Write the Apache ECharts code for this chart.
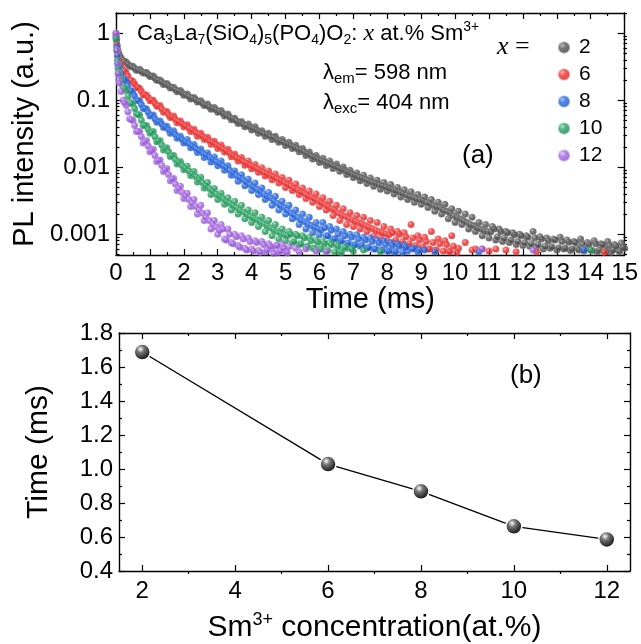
<!DOCTYPE html>
<html>
<head>
<meta charset="utf-8">
<script src="https://cdn.jsdelivr.net/npm/echarts@6/dist/echarts.min.js"></script>
<style>html,body{margin:0;padding:0;background:#fff}#c{width:641px;height:644px}</style>
</head>
<body>
<div id="c"></div>
<script>
// ---------- data (panel a: PL decay, panel b: lifetime) ----------
const timeMs = [0,0.02,0.04,0.06,0.08,
0.1,0.2,0.3,0.4,0.5,0.6,0.7,0.8,0.9,1.0,
1.1,1.2,1.3,1.4,1.5,1.6,1.7,1.8,1.9,2.0,
2.1,2.2,2.3,2.4,2.5,2.6,2.7,2.8,2.9,3.0,
3.1,3.2,3.3,3.4,3.5,3.6,3.7,3.8,3.9,4.0,
4.1,4.2,4.3,4.4,4.5,4.6,4.7,4.8,4.9,5.0,
5.1,5.2,5.3,5.4,5.5,5.6,5.7,5.8,5.9,6.0,
6.1,6.2,6.3,6.4,6.5,6.6,6.7,6.8,6.9,7.0,
7.1,7.2,7.3,7.4,7.5,7.6,7.7,7.8,7.9,8.0,
8.1,8.2,8.3,8.4,8.5,8.6,8.7,8.8,8.9,9.0,
9.1,9.2,9.3,9.4,9.5,9.6,9.7,9.8,9.9,10.0,
10.1,10.2,10.3,10.4,10.5,10.6,10.7,10.8,10.9,11.0,
11.1,11.2,11.3,11.4,11.5,11.6,11.7,11.8,11.9,12.0,
12.1,12.2,12.3,12.4,12.5,12.6,12.7,12.8,12.9,13.0,
13.1,13.2,13.3,13.4,13.5,13.6,13.7,13.8,13.9,14.0,
14.1,14.2,14.3,14.4,14.5,14.6,14.7,14.8,14.9,15.0];

// in-between sampling instants
const timeMidMs = [
0.15,0.25,0.35,0.45,0.55,0.65,0.75,0.85,0.95,1.05,
1.15,1.25,1.35,1.45,1.55,1.65,1.75,1.85,1.95,2.05,
2.15,2.25,2.35,2.45,2.55,2.65,2.75,2.85,2.95,3.05,
3.15,3.25,3.35,3.45,3.55,3.65,3.75,3.85,3.95,4.05,
4.15,4.25,4.35,4.45,4.55,4.65,4.75,4.85,4.95,5.05,
5.15,5.25,5.35,5.45,5.55,5.65,5.75,5.85,5.95,6.05,
6.15,6.25,6.35,6.45,6.55,6.65,6.75,6.85,6.95,7.05,
7.15,7.25,7.35,7.45,7.55,7.65,7.75,7.85,7.95,8.05,
8.15,8.25,8.35,8.45,8.55,8.65,8.75,8.85,8.95,9.05,
9.15,9.25,9.35,9.45,9.55,9.65,9.75,9.85,9.95,10.05,
10.15,10.25,10.35,10.45,10.55,10.65,10.75,10.85,10.95,11.05,
11.15,11.25,11.35,11.45,11.55,11.65,11.75,11.85,11.95,12.05,
12.15,12.25,12.35,12.45,12.55,12.65,12.75,12.85,12.95,13.05,
13.15,13.25,13.35,13.45,13.55,13.65,13.75,13.85,13.95,14.05,
14.15,14.25,14.35,14.45,14.55,14.65,14.75,14.85,14.95];

const pl_x2 = [1.0,0.8,0.64,0.55,0.5,
0.47,0.38,0.37,0.32,0.32,0.28,0.29,0.255,0.26,0.225,
0.23,0.198,0.2,0.172,0.178,0.152,0.156,0.134,0.139,0.119,
0.124,0.104,0.11,0.094,0.098,0.083,0.088,0.073,0.078,0.066,
0.07,0.058,0.062,0.051,0.054,0.045,0.048,0.040,0.044,0.036,
0.04,0.032,0.035,0.029,0.032,0.026,0.029,0.0235,0.026,0.021,
0.0235,0.019,0.0212,0.017,0.019,0.015,0.0168,0.0133,0.015,0.0118,
0.0136,0.0106,0.0124,0.0096,0.0112,0.0087,0.0101,0.0078,0.009,0.007,
0.0082,0.0063,0.0076,0.0057,0.0069,0.0052,0.0064,0.0047,0.0059,0.0044,
0.0055,0.0040,0.0050,0.0036,0.0046,0.0033,0.0043,0.003,0.0039,0.0028,
0.0036,0.0025,0.0033,0.0022,0.003,0.002,0.0028,0.0017,0.0024,0.0015,
0.0022,0.0014,0.002,0.0012,0.0018,0.0011,0.0015,0.00095,0.0014,0.00088,
0.0013,0.00082,0.0012,0.00078,0.0011,0.00075,0.00105,0.0007,0.001,0.00068,
0.00095,0.00066,0.0011,0.00064,0.00092,0.0006,0.00088,0.00062,0.00085,0.00058,
0.0009,0.0006,0.00082,0.00057,0.00078,0.00062,0.00085,0.00056,0.00075,0.00058,
0.0008,0.00055,0.00072,0.0006,0.00078,0.00054,0.0007,0.00058,0.00074,0.00062];
const pl_x2_mid = [
0.43,0.38,0.345,0.32,0.30,0.283,0.27,0.257,0.242,0.228,
0.212,0.199,0.187,0.175,0.165,0.155,0.145,0.137,0.129,0.121,
0.114,0.108,0.102,0.096,0.090,0.085,0.080,0.076,0.072,0.068,
0.064,0.060,0.056,0.053,0.0495,0.047,0.044,0.042,0.040,0.038,
0.036,0.034,0.032,0.031,0.029,0.028,0.026,0.0248,0.0235,0.0224,
0.0212,0.020,0.019,0.018,0.017,0.016,0.015,0.0142,0.0134,0.0127,
0.0121,0.0115,0.011,0.0104,0.0099,0.0094,0.009,0.0085,0.008,0.0076,
0.0072,0.0069,0.0066,0.0063,0.006,0.0058,0.0055,0.0053,0.0051,0.0049,
0.0047,0.0045,0.0043,0.0041,0.0039,0.0037,0.0036,0.0034,0.0033,0.0032,
0.0030,0.0029,0.0027,0.0026,0.0025,0.0023,0.0022,0.0021,0.0019,0.0018,
0.0017,0.0016,0.0015,0.0014,0.00135,0.00125,0.0012,0.00115,0.0011,0.00108,
0.0012,0.00092,0.0011,0.00088,0.00105,0.00082,0.00098,0.00078,0.00095,0.00075,
0.0009,0.00072,0.00088,0.0007,0.00085,0.00066,0.0008,0.00065,0.00082,0.00063,
0.00078,0.00062,0.00076,0.0006,0.00075,0.00058,0.00072,0.0006,0.0007,0.00057,
0.00072,0.00058,0.0007,0.00056,0.00068,0.00058,0.00066,0.00055,0.00064];

const pl_x6 = [0.92,0.7,0.56,0.46,0.41,
0.39,0.29,0.26,0.2,0.19,0.155,0.15,0.12,0.12,0.098,
0.1,0.081,0.083,0.066,0.068,0.055,0.058,0.046,0.049,0.04,
0.043,0.034,0.037,0.029,0.032,0.026,0.028,0.022,0.0245,0.019,
0.0215,0.0168,0.0185,0.0143,0.0158,0.0124,0.014,0.0107,0.0124,0.0095,
0.011,0.0084,0.0098,0.0074,0.0088,0.0065,0.0079,0.0058,0.007,0.005,
0.0064,0.0045,0.0056,0.0039,0.0049,0.0034,0.0044,0.003,0.004,0.0026,
0.0035,0.0023,0.0031,0.0019,0.0027,0.0016,0.0024,0.0014,0.0021,0.0013,
0.0019,0.0012,0.0018,0.0011,0.0016,0.00095,0.0015,0.00088,0.0013,0.0008,
0.0012,0.00075,0.0011,0.0007,0.00105,0.00068,0.0014,0.00065,0.00095,0.00062,
0.0009,0.0006,0.0011,0.00058,0.00085,null,0.0008,0.00056,0.00095,null,
0.00062,null,0.00075,null,0.00058,0.0006,null,0.0006,null,0.00056];
const pl_x6_mid = [
0.34,0.27,0.23,0.197,0.175,0.155,0.136,0.121,0.11,0.1,
0.09,0.082,0.074,0.067,0.061,0.056,0.052,0.048,0.0445,0.0415,
0.0385,0.036,0.033,0.031,0.029,0.027,0.025,0.0235,0.0218,0.0203,
0.019,0.0176,0.0163,0.0151,0.014,0.0131,0.0123,0.0115,0.0108,0.0102,
0.0096,0.009,0.0085,0.008,0.0076,0.0072,0.0068,0.0064,0.006,0.0056,
0.0053,0.0049,0.0046,0.0043,0.0041,0.0038,0.0036,0.0034,0.0032,0.003,
0.0028,0.0026,0.0024,0.0023,0.0021,0.00195,0.00185,0.00175,0.00165,0.00156,
0.0015,0.00143,0.00135,0.00128,0.00122,0.00116,0.0011,0.00106,0.00102,0.00098,
0.00105,0.00082,0.001,0.00078,0.00092,0.00072,0.00088,0.00068,0.00082,0.00065,
0.00078,0.0006,0.00075,0.00058,0.00072,0.00056,0.0007,0.00055,0.00066,0.00054];
const pl_x6_tail = [[11.2,0.0006],[11.5,0.00058],[11.8,0.00055],[12.4,0.00055],[14.4,0.00054]];

const pl_x8 = [0.88,0.62,0.46,0.37,0.33,
0.31,0.21,0.19,0.14,0.13,0.1,0.097,0.075,0.074,0.058,
0.06,0.047,0.049,0.039,0.041,0.032,0.035,0.027,0.029,0.023,
0.026,0.0195,0.0218,0.0166,0.0187,0.014,0.0163,0.012,0.0142,0.0105,
0.0124,0.009,0.0105,0.0076,0.0088,0.0062,0.0077,0.0053,0.0066,0.0045,
0.0058,0.0039,0.0049,0.0033,0.0042,0.0027,0.0037,0.0023,0.0031,0.002,
0.0027,0.0017,0.0023,0.0014,0.002,0.0012,0.0018,0.00105,0.0015,0.00098,
0.0015,0.00095,0.0013,0.00085,0.0012,0.00078,0.0011,0.00072,0.001,0.00068,
0.00098,0.00066,0.0009,0.00062,0.00088,0.0006,0.00082,0.00058,0.0008,0.00056,
0.00075,0.00055,0.00072,null,0.00068,0.00056,null,0.00062,0.00055];
const pl_x8_mid = [
0.25,0.2,0.165,0.137,0.116,0.099,0.086,0.075,0.066,0.059,
0.053,0.048,0.044,0.04,0.0365,0.0335,0.031,0.028,0.026,0.024,
0.0225,0.0208,0.0192,0.0177,0.0164,0.0153,0.0142,0.0132,0.0122,0.0114,
0.0106,0.0098,0.009,0.0082,0.0075,0.007,0.0065,0.006,0.0055,0.0051,
0.0047,0.0044,0.004,0.0037,0.0035,0.0032,0.0029,0.0027,0.0025,0.0023,
0.0021,0.00195,0.0018,0.00165,0.00155,0.00145,0.00135,0.00128,0.00122,0.00117,
0.00125,0.00095,0.00115,0.00085,0.001,0.0008,0.00095,0.00074,0.0009,0.0007,
0.00085,0.00068,0.00082,0.00064,0.00078,0.0006,0.00074,0.00058,0.0007,0.00056,
0.00068,0.00055,0.00066,0.00054,0.00064,null,0.0006,null,0.00058];
const pl_x8_tail = [[9.1,0.00058],[9.4,0.00055],[10.7,0.00055],[13.8,0.00058]];

const pl_x10 = [0.82,0.55,0.39,0.3,0.26,
0.24,0.16,0.14,0.094,0.088,0.063,0.06,0.042,0.042,0.032,
0.034,0.024,0.025,0.018,0.0195,0.0145,0.015,0.0112,0.0122,0.0092,
0.0103,0.0075,0.0086,0.006,0.0071,0.0049,0.0059,0.0039,0.0048,0.0033,
0.0041,0.0028,0.0035,0.0023,0.0031,0.002,0.0027,0.0017,0.0023,0.0015,
0.0021,0.0013,0.0018,0.0011,0.0016,0.00095,0.0014,0.00085,0.0012,0.0008,
0.0011,0.00075,0.001,0.0007,0.00095,0.00065,0.0009,0.00062,0.00082,0.0006,
0.00078,0.00057,0.00075,null,0.0007,0.00055,null,0.00062,null,0.00056];
const pl_x10_mid = [
0.2,0.15,0.115,0.09,0.075,0.061,0.05,0.042,0.037,0.033,
0.0285,0.0245,0.0215,0.019,0.017,0.0148,0.0131,0.0118,0.0106,0.0096,
0.0088,0.008,0.0073,0.0065,0.0059,0.0053,0.0048,0.0044,0.004,0.0037,
0.0034,0.0031,0.0029,0.0027,0.0025,0.0023,0.00215,0.002,0.00185,0.00175,
0.00165,0.00155,0.00145,0.00135,0.00125,0.00117,0.0011,0.00104,0.00099,0.00095,
0.001,0.00078,0.00095,0.00072,0.00088,0.00066,0.0008,0.00062,0.00076,0.0006,
0.00072,0.00057,0.0007,0.00055,0.00066,0.00054,0.00064,null,0.0006];
const pl_x10_tail = [[7.3,0.00058],[7.8,0.00055],[14.0,0.00058]];

const pl_x12 = [1.0,0.55,0.35,0.25,0.2,
0.18,0.1,0.084,0.053,0.05,0.034,0.034,0.023,0.025,0.017,
0.0185,0.0122,0.0128,0.0086,0.0096,0.0063,0.0068,0.0045,0.0052,0.0034,
0.0041,0.0026,0.0033,0.002,0.0027,0.0016,0.0021,0.0012,0.0016,0.001,
0.0014,0.00085,0.0012,0.00075,0.001,0.00068,0.00095,0.00062,0.00088,0.0006,
0.0008,0.00057,0.00078,0.00055,0.00072,0.0006,0.00068,0.00054,0.0007,0.00056,
0.00065,null,0.00062,0.00055,null,0.0006,null,null,0.00056];
const pl_x12_mid = [
0.135,0.092,0.067,0.051,0.042,0.034,0.0285,0.024,0.0207,0.0177,
0.015,0.0126,0.0106,0.0091,0.0078,0.0066,0.0056,0.0048,0.0042,0.0037,
0.0033,0.0029,0.0026,0.0023,0.00205,0.0018,0.0016,0.00143,0.00128,0.00115,
0.0012,0.00082,0.001,0.00072,0.00092,0.00064,0.00085,0.00058,0.00078,0.00056,
0.00075,0.00054,0.0007,0.00058,0.00066,0.00052,0.00068,0.00056,0.00062,0.00053];
const pl_x12_tail = [[6.2,0.00055],[10.8,0.0006],[12.3,0.00058]];

const legendNames = ['2','6','8','10','12'];
const decayLabelValues = [0.001,0.01,0.1,1];

const concentration = [2,6,8,10,12];
const lifetimeMs = [1.688,1.029,0.869,0.663,0.586];
const concLabelValues = [2,4,6,8,10,12];
const concMinorValues = [3,5,7,9,11];

// ---------- styling ----------
const FONT = '"Liberation Sans", Arial, Helvetica, sans-serif';
const SERIF = '"Liberation Serif", "Times New Roman", serif';
const AXIS_W = 1.4;

function sphere(light, base, dark) {
  return {type:'radial', x:0.38, y:0.35, r:0.7,
    colorStops:[{offset:0,color:light},{offset:0.35,color:base},{offset:1,color:dark}]};
}
function zip(vals, mid, tail) {
  const out = [];
  vals.forEach((v,i) => { if (v != null) out.push([timeMs[i], v]); });
  mid.forEach((v,i) => { if (v != null) out.push([timeMidMs[i], v]); });
  (tail || []).forEach(p => out.push(p));
  return out;
}
const logMinor = [];
[0.0001,0.001,0.01,0.1,1].forEach(d => {
  for (let k = 2; k <= 9; k++) {
    const v = +(d*k).toPrecision(3);
    if (v >= 0.00049 && v <= 2) logMinor.push(v);
  }
});

const decaySets = [
  {name:'2',  vals:pl_x2,  mid:pl_x2_mid,  tail:null,        c:sphere('#a8a8a8','#555555','#333333')},
  {name:'6',  vals:pl_x6,  mid:pl_x6_mid,  tail:pl_x6_tail,  c:sphere('#ff9a9a','#f03030','#c81414')},
  {name:'8',  vals:pl_x8,  mid:pl_x8_mid,  tail:pl_x8_tail,  c:sphere('#8ab4ff','#2266e0','#0c44b0')},
  {name:'10', vals:pl_x10, mid:pl_x10_mid, tail:pl_x10_tail, c:sphere('#8ee0b4','#25a060','#107a40')},
  {name:'12', vals:pl_x12, mid:pl_x12_mid, tail:pl_x12_tail, c:sphere('#dcb8ff','#a466e0','#7e40c0')}
];

const G0 = {left:116, top:13, width:511, height:242};
const G2 = {left:119, top:333, width:511, height:241};
const lineStyle = {color:'#000', width:AXIS_W};
const tickStyle = {color:'#000', width:1.2};
const labelStyle = {fontSize:24, color:'#000', fontFamily:FONT};

function mirrorX(grid, pos, extra) {
  return Object.assign({gridIndex:grid, type:'value', position:pos,
    axisLine:{show:true, onZero:false, lineStyle},
    axisTick:{show:true, inside:true, length:6, lineStyle:tickStyle},
    axisLabel:{show:false}, splitLine:{show:false}}, extra);
}

const yLog = {type:'log', logBase:10, min:0.00049, max:2};

const option = {
  animation:false,
  backgroundColor:'#fff',
  grid:[
    Object.assign({}, G0),
    Object.assign({}, G0),
    Object.assign({}, G2),
    Object.assign({}, G2)
  ],
  xAxis:[
    {gridIndex:0, type:'value', min:0, max:15, interval:1, position:'bottom',
     axisLine:{show:true, onZero:false, lineStyle},
     axisTick:{show:true, inside:true, length:6, lineStyle:tickStyle},
     minorTick:{show:true, splitNumber:2, length:3, lineStyle:tickStyle},
     axisLabel:Object.assign({margin:6, interval:0}, labelStyle),
     splitLine:{show:false},
     name:'Time (ms)', nameLocation:'middle', nameGap:30,
     nameTextStyle:{fontSize:29, color:'#000', fontFamily:FONT}},
    mirrorX(0, 'top', {min:0, max:15, interval:1,
      minorTick:{show:true, splitNumber:2, length:3, lineStyle:tickStyle}}),
    {gridIndex:1, type:'value', min:0, max:15, show:false},
    {gridIndex:2, type:'value', min:1.5, max:12.5, position:'bottom',
     axisLine:{show:true, onZero:false, lineStyle},
     axisTick:{show:true, inside:true, length:6, lineStyle:tickStyle, customValues:concLabelValues},
     axisLabel:Object.assign({margin:8, customValues:concLabelValues}, labelStyle),
     splitLine:{show:false},
     name:'{t|Sm}{p|3+}{t| concentration(at.%)}', nameLocation:'middle', nameGap:40,
     nameTextStyle:{fontSize:30, color:'#000', fontFamily:FONT,
       rich:{t:{fontSize:30, color:'#000', fontFamily:FONT, lineHeight:34},
             p:{fontSize:18, color:'#000', fontFamily:FONT, lineHeight:18, verticalAlign:'top'}}}},
    mirrorX(2, 'top', {min:1.5, max:12.5,
      axisTick:{show:true, inside:true, length:6, lineStyle:tickStyle, customValues:concLabelValues}}),
    {gridIndex:3, type:'value', min:1.5, max:12.5, position:'bottom',
     axisLine:{show:false}, splitLine:{show:false}, axisLabel:{show:false},
     axisTick:{show:true, inside:true, length:3, lineStyle:tickStyle, customValues:concMinorValues}},
    {gridIndex:3, type:'value', min:1.5, max:12.5, position:'top',
     axisLine:{show:false}, splitLine:{show:false}, axisLabel:{show:false},
     axisTick:{show:true, inside:true, length:3, lineStyle:tickStyle, customValues:concMinorValues}}
  ],
  yAxis:[
    Object.assign({gridIndex:0, position:'left',
     axisLine:{show:true, onZero:false, lineStyle},
     axisTick:{show:true, inside:true, length:7, lineStyle:tickStyle, customValues:decayLabelValues},
     axisLabel:Object.assign({margin:6, customValues:decayLabelValues, formatter:v => String(v)}, labelStyle),
     splitLine:{show:false},
     name:'PL intensity (a.u.)', nameLocation:'middle', nameGap:73,
     nameTextStyle:{fontSize:29, color:'#000', fontFamily:FONT}}, yLog),
    Object.assign({gridIndex:0, position:'right',
     axisLine:{show:true, onZero:false, lineStyle},
     axisTick:{show:true, inside:true, length:7, lineStyle:tickStyle, customValues:decayLabelValues},
     axisLabel:{show:false}, splitLine:{show:false}}, yLog),
    Object.assign({gridIndex:1, position:'left',
     axisLine:{show:false}, axisLabel:{show:false}, splitLine:{show:false},
     axisTick:{show:true, inside:true, length:3.5, lineStyle:tickStyle, customValues:logMinor}}, yLog),
    Object.assign({gridIndex:1, position:'right',
     axisLine:{show:false}, axisLabel:{show:false}, splitLine:{show:false},
     axisTick:{show:true, inside:true, length:3.5, lineStyle:tickStyle, customValues:logMinor}}, yLog),
    {gridIndex:2, type:'value', min:0.4, max:1.8, interval:0.2, position:'left',
     axisLine:{show:true, onZero:false, lineStyle},
     axisTick:{show:true, inside:true, length:6, lineStyle:tickStyle},
     minorTick:{show:true, splitNumber:2, length:3, lineStyle:tickStyle},
     axisLabel:Object.assign({margin:6, formatter:v => v.toFixed(1)}, labelStyle),
     splitLine:{show:false},
     name:'Time (ms)', nameLocation:'middle', nameGap:65,
     nameTextStyle:{fontSize:30, color:'#000', fontFamily:FONT}},
    {gridIndex:2, type:'value', min:0.4, max:1.8, interval:0.2, position:'right',
     axisLine:{show:true, onZero:false, lineStyle},
     axisTick:{show:true, inside:true, length:6, lineStyle:tickStyle},
     minorTick:{show:true, splitNumber:2, length:3, lineStyle:tickStyle},
     axisLabel:{show:false}, splitLine:{show:false}},
    {gridIndex:3, type:'value', min:0.4, max:1.8, show:false}
  ],
  legend:{
    data:legendNames, orient:'vertical', left:552, top:32,
    itemWidth:12, itemHeight:12, itemGap:6, icon:'circle',
    selectedMode:false,
    textStyle:{fontSize:21, lineHeight:20, color:'#000', fontFamily:FONT, padding:[0,0,0,4]}
  },
  series:[
    ...decaySets.map(s => ({
      name:s.name, type:'scatter', xAxisIndex:0, yAxisIndex:0,
      symbol:'circle', symbolSize:7, clip:true,
      itemStyle:{color:s.c, borderColor:'rgba(255,255,255,0.45)', borderWidth:0.5},
      data:zip(s.vals, s.mid, s.tail)
    })),
    {name:'lifetime', type:'line', xAxisIndex:3, yAxisIndex:4,
     symbol:'circle', symbolSize:16,
     lineStyle:{color:'#000', width:1.3},
     itemStyle:{color:{type:'radial', x:0.4, y:0.33, r:0.7,
       colorStops:[{offset:0,color:'#ffffff'},{offset:0.3,color:'#777'},{offset:1,color:'#000'}]},
       borderColor:'#fff', borderWidth:1.5},
     data:concentration.map((c,i) => [c, lifetimeMs[i]])}
  ],
  graphic:[
    {type:'text', x:137, y:20, style:{
      text:'{m|Ca}{s|3}{m|La}{s|7}{m|(SiO}{s|4}{m|)}{s|5}{m|(PO}{s|4}{m|)O}{s|2}{m|: }{i|x}{m| at.% Sm}{p|3+}',
      verticalAlign:'top',
      rich:{
        m:{fontSize:22, fontFamily:FONT, fill:'#000', lineHeight:27},
        s:{fontSize:14, fontFamily:FONT, fill:'#000', lineHeight:14, verticalAlign:'bottom'},
        p:{fontSize:14, fontFamily:FONT, fill:'#000', lineHeight:14, verticalAlign:'top'},
        i:{fontSize:24, fontFamily:SERIF, fontStyle:'italic', fill:'#000', lineHeight:27}
      }}},
    {type:'text', x:323, y:59, style:{
      text:'{m|λ}{s|em}{m|= 598 nm}', verticalAlign:'top',
      rich:{
        m:{fontSize:22, fontFamily:FONT, fill:'#000', lineHeight:27},
        s:{fontSize:15, fontFamily:FONT, fill:'#000', lineHeight:15, verticalAlign:'bottom'}
      }}},
    {type:'text', x:323, y:89, style:{
      text:'{m|λ}{s|exc}{m|= 404 nm}', verticalAlign:'top',
      rich:{
        m:{fontSize:22, fontFamily:FONT, fill:'#000', lineHeight:27},
        s:{fontSize:15, fontFamily:FONT, fill:'#000', lineHeight:15, verticalAlign:'bottom'}
      }}},
    {type:'text', x:497, y:47, style:{
      text:'{i|x}{e| =}', verticalAlign:'middle',
      rich:{
        i:{fontSize:26, fontFamily:SERIF, fontStyle:'italic', fill:'#000'},
        e:{fontSize:26, fontFamily:SERIF, fill:'#000'}
      }}},
    {type:'text', x:462, y:156, style:{text:'(a)', fontSize:26, fontFamily:FONT, fill:'#000', verticalAlign:'middle'}},
    {type:'text', x:510, y:376, style:{text:'(b)', fontSize:26, fontFamily:FONT, fill:'#000', verticalAlign:'middle'}}
  ]
};

const chart = echarts.init(document.getElementById('c'));
chart.setOption(option);
</script>
</body>
</html>
